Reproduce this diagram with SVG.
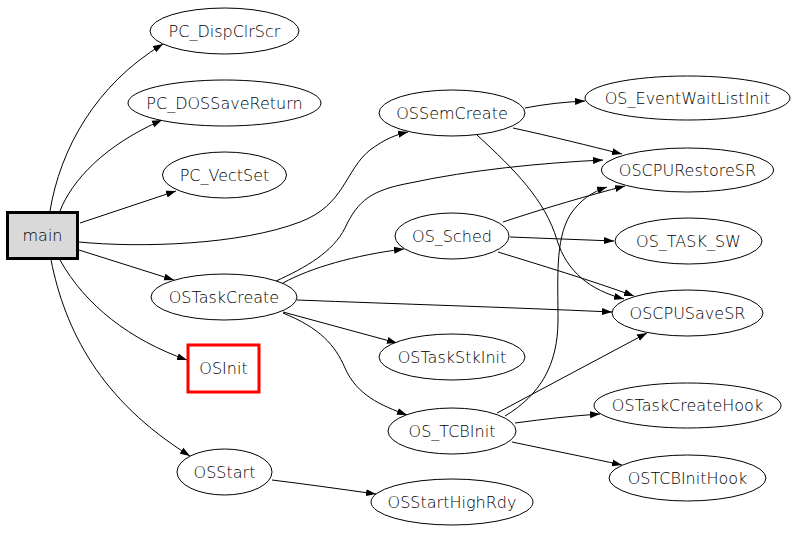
<svg xmlns="http://www.w3.org/2000/svg" width="797" height="533" viewBox="0 0 797 533">
<style>
.n ellipse{fill:#fff;stroke:#000;stroke-width:1}
text{font-family:"DejaVu Sans","Liberation Sans",sans-serif;font-size:16px;font-weight:200;fill:#000;text-anchor:middle}
#edges path{fill:none;stroke:#000;stroke-width:1;marker-end:url(#ah)}
</style>
<defs>
<marker id="ah" markerUnits="userSpaceOnUse" markerWidth="10" markerHeight="8" refX="10" refY="3.5" orient="auto" viewBox="0 0 10 7"><path d="M0,0 L10,3.5 L0,7 z" fill="#000"/></marker>
</defs>
<rect width="797" height="533" fill="#fff"/>
<g id="edges">
<path d="M50,211 C60,150 95,85 163,44"/>
<path d="M60,211 C72,180 105,145 162,120"/>
<path d="M80,223 L176,191"/>
<path d="M79,242 C140,248 240,245 300,222 C345,205 345,170 370,150 C385,139 395,135 408,132"/>
<path d="M79,250 L174,280"/>
<path d="M60,260 C85,305 130,340 187,360"/>
<path d="M51,260 C65,330 100,400 190,456"/>
<path d="M525,108 C545,104 565,102 585,101"/>
<path d="M513,128 C550,136 590,146 622,154"/>
<path d="M477,135 C515,170 545,200 557,240 C567,272 590,290 624,299"/>
<path d="M276,281 C305,268 333,252 345,228 C358,200 372,190 410,183 C470,170 540,163 603,160"/>
<path d="M283,283 C310,268 355,255 404,249"/>
<path d="M297,300 C400,304 500,307 612,312"/>
<path d="M283,312 L397,343"/>
<path d="M283,313 C320,328 335,345 345,368 C357,395 380,405 407,415"/>
<path d="M503,222 C545,208 590,195 625,186"/>
<path d="M510,237 L614,241"/>
<path d="M498,252 C540,265 590,280 634,296"/>
<path d="M505,416 C540,395 558,365 558,320 C558,280 555,240 570,215 C580,200 592,192 607,187"/>
<path d="M497,413 L647,333"/>
<path d="M515,423 C545,419 570,416 600,414"/>
<path d="M512,442 C550,450 590,458 622,465"/>
<path d="M272,480 C305,484 340,489 376,494"/>
</g>
<g id="main"><rect x="7.5" y="212.5" width="70" height="46" fill="#d9d9d9" stroke="#000" stroke-width="3"/><text x="42.5" y="241">main</text></g>
<g id="PC_DispClrScr" class="n"><ellipse cx="224.5" cy="31" rx="74.5" ry="23"/><text x="224.5" y="36.5">PC_DispClrScr</text></g>
<g id="PC_DOSSaveReturn" class="n"><ellipse cx="224.5" cy="103" rx="96.5" ry="23"/><text x="224.5" y="108.5">PC_DOSSaveReturn</text></g>
<g id="PC_VectSet" class="n"><ellipse cx="224.5" cy="175" rx="62" ry="23"/><text x="224.5" y="180.5">PC_VectSet</text></g>
<g id="OSTaskCreate" class="n"><ellipse cx="224" cy="297" rx="73" ry="23"/><text x="224" y="302.5">OSTaskCreate</text></g>
<g id="OSInit"><rect x="188" y="345" width="71" height="47" fill="#fff" stroke="#f00" stroke-width="3"/><text x="223.5" y="374">OSInit</text></g>
<g id="OSStart" class="n"><ellipse cx="224.5" cy="472" rx="47.5" ry="23"/><text x="224.5" y="477.5">OSStart</text></g>
<g id="OSSemCreate" class="n"><ellipse cx="452" cy="113" rx="73" ry="23"/><text x="452" y="118.5">OSSemCreate</text></g>
<g id="OS_Sched" class="n"><ellipse cx="452" cy="236" rx="57" ry="23"/><text x="452" y="241.5">OS_Sched</text></g>
<g id="OSTaskStkInit" class="n"><ellipse cx="452" cy="357" rx="73" ry="23"/><text x="452" y="362.5">OSTaskStkInit</text></g>
<g id="OS_TCBInit" class="n"><ellipse cx="452" cy="431" rx="64" ry="23"/><text x="452" y="436.5">OS_TCBInit</text></g>
<g id="OSStartHighRdy" class="n"><ellipse cx="452" cy="502" rx="81" ry="23"/><text x="452" y="507.5">OSStartHighRdy</text></g>
<g id="OS_EventWaitListInit" class="n"><ellipse cx="687.5" cy="98" rx="102.5" ry="22"/><text x="687.5" y="103.5">OS_EventWaitListInit</text></g>
<g id="OSCPURestoreSR" class="n"><ellipse cx="687.5" cy="170" rx="86" ry="22"/><text x="687.5" y="175.5">OSCPURestoreSR</text></g>
<g id="OS_TASK_SW" class="n"><ellipse cx="688.5" cy="241" rx="73.5" ry="23"/><text x="688.5" y="246.5">OS_TASK_SW</text></g>
<g id="OSCPUSaveSR" class="n"><ellipse cx="687.5" cy="313" rx="75.5" ry="23"/><text x="687.5" y="318.5">OSCPUSaveSR</text></g>
<g id="OSTaskCreateHook" class="n"><ellipse cx="687.5" cy="405.5" rx="93.5" ry="22.5"/><text x="687.5" y="411">OSTaskCreateHook</text></g>
<g id="OSTCBInitHook" class="n"><ellipse cx="687.5" cy="478" rx="78.5" ry="23"/><text x="687.5" y="483.5">OSTCBInitHook</text></g>
</svg>
